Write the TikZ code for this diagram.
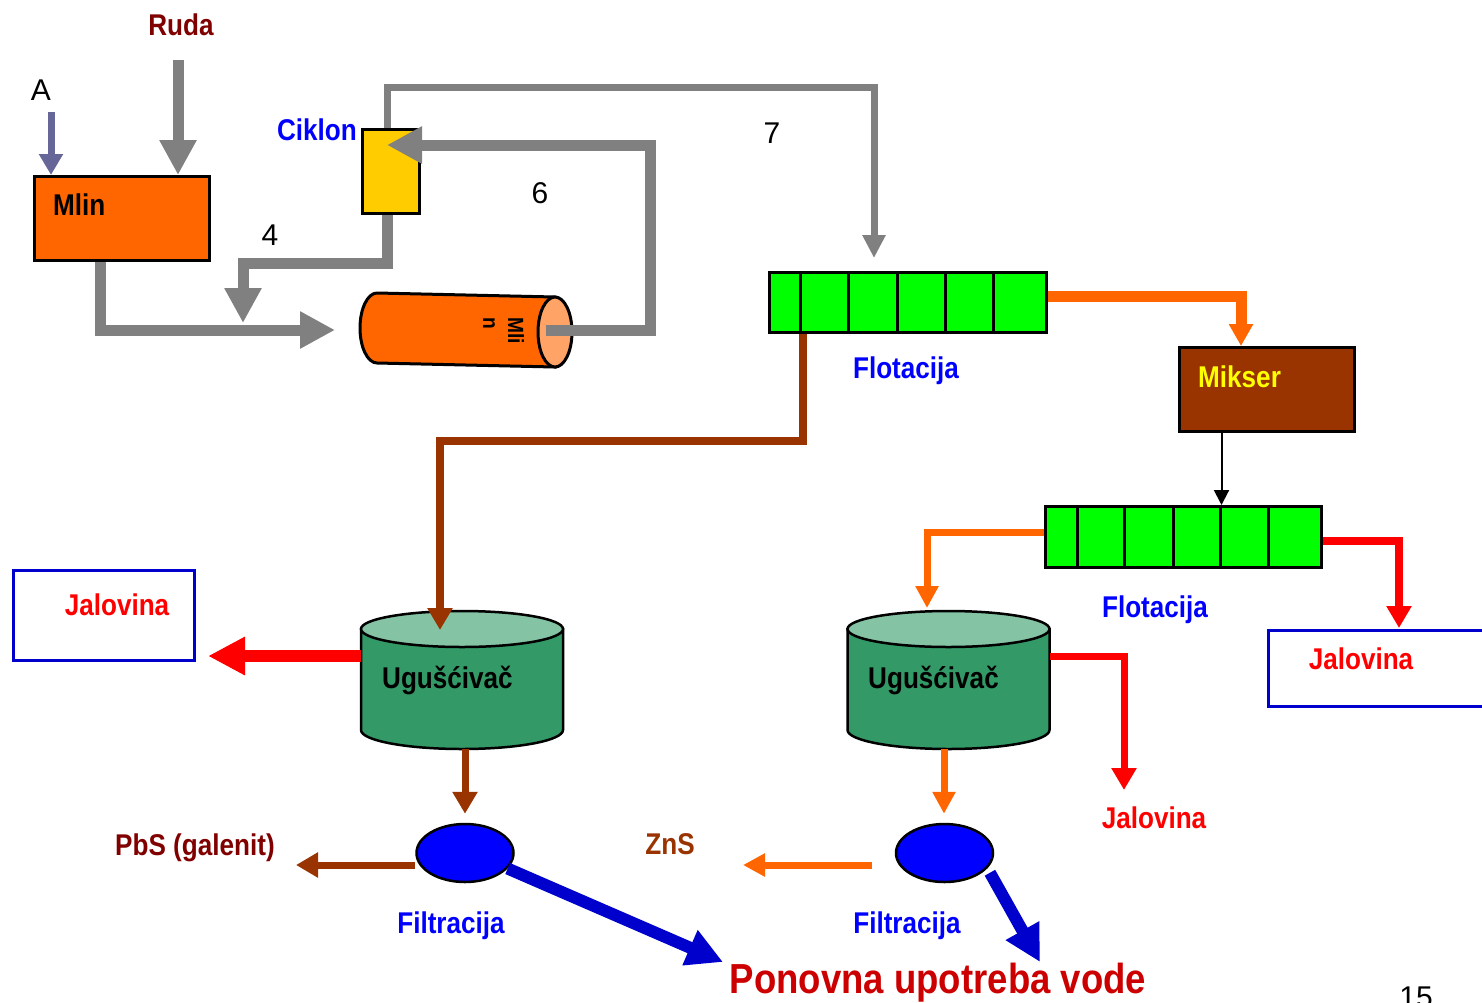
\documentclass[tikz,border=0pt]{standalone}
\usepackage{fontspec}
\setmainfont{Liberation Sans}
\newfontfamily\nb{Liberation Sans}[FakeStretch=0.87]
\usetikzlibrary{arrows.meta,shapes.geometric}

\definecolor{pipegray}{HTML}{808080}
\definecolor{millorange}{HTML}{FF6600}
\definecolor{millcap}{HTML}{FFA366}
\definecolor{cycyellow}{HTML}{FFCC00}
\definecolor{flotgreen}{HTML}{00FF00}
\definecolor{mixbrown}{HTML}{993300}
\definecolor{tankbody}{HTML}{339966}
\definecolor{tanktop}{HTML}{84C4A4}
\definecolor{feedblue}{HTML}{666699}
\definecolor{oremaroon}{HTML}{800000}
\definecolor{labelblue}{HTML}{0000FF}
\definecolor{waterblue}{HTML}{0000CC}
\definecolor{tailred}{HTML}{FF0000}
\definecolor{reusered}{HTML}{CC0000}
\definecolor{mixyellow}{HTML}{FFFF00}

\begin{document}
\begin{tikzpicture}[x=1pt,y=-1pt,line join=miter,
  lbl/.style={inner sep=0pt,font=\nb\bfseries\fontsize{30}{36}\selectfont,anchor=base},
  num/.style={inner sep=0pt,font=\fontsize{30}{36}\selectfont,anchor=base},
  unit/.style={draw=black,line width=3pt,inner sep=0pt,anchor=north west},
  tailbox/.style={draw=waterblue,line width=2.5pt,inner sep=0pt,anchor=north west},
  filter/.style={ellipse,draw=black,line width=2.5pt,fill=labelblue,inner sep=0pt,
                 minimum width=97pt,minimum height=58pt},
  bigpipe/.style={draw=pipegray,line width=11pt,-{Triangle[width=35pt,length=35pt]}},
  smallpipe/.style={draw=pipegray,line width=7pt,-{Triangle[width=22pt,length=23pt]}},
  feedline/.style={draw=feedblue,line width=7pt,-{Triangle[width=23pt,length=21pt]}},
  frothline/.style={draw=millorange,line width=11pt,-{Triangle[width=23pt,length=22pt]}},
  orangeline/.style={draw=millorange,line width=7pt,-{Triangle[width=22pt,length=22pt]}},
  brownline/.style={draw=mixbrown,line width=#1,-{Triangle[width=24pt,length=22pt]}},
  redline/.style={draw=tailred,line width=#1,-{Triangle[width=24pt,length=22pt]}},
  waterline/.style={draw=waterblue,line width=12pt,-{Triangle[width=36pt,length=36pt]}},
  thinline/.style={draw=black,line width=2pt,-{Triangle[width=15pt,length=15pt]}}
]
\useasboundingbox (0,0) rectangle (1482,1002);

% ---------- grinding ----------
\node[unit,fill=millorange,minimum width=175pt,minimum height=84pt] (mlin) at (33,175) {};
\node[lbl,anchor=base west] (mlintxt) at (53,215) {Mlin};
\node[num] (alab) at (41,100) {A};
\node[lbl,text=oremaroon] (ruda) at (181,35) {Ruda};

% ball mill drum
\node[inner sep=0pt,minimum width=212pt,minimum height=76pt] (mill) at (466.5,330) {};
\draw[line width=3pt,fill=millorange] (377,293) -- (555,297) -- (555,367) -- (377,363)
  arc[start angle=270,end angle=90,x radius=17pt,y radius=35pt] -- cycle;
\draw[line width=3pt,fill=millcap] (555,332) ellipse[x radius=17pt,y radius=35pt];
\node[inner sep=0pt,rotate=-90,anchor=base west,font=\nb\bfseries\fontsize{22}{26}\selectfont]
  (milltxt) at (508,317) {Mli};
\node[inner sep=0pt,rotate=-90,anchor=base west,font=\nb\bfseries\fontsize{22}{26}\selectfont]
  (milltxtb) at (483,317) {n};

% cyclone
\node[unit,fill=cycyellow,minimum width=57pt,minimum height=84pt] (cik) at (361,128) {};
\node[lbl,anchor=base east,text=labelblue] (ciktxt) at (357,140) {Ciklon};

\node[num] (n4) at (270,245) {4};
\node[num] (n6) at (540,203) {6};
\node[num] (n7) at (772,143) {7};

% ---------- flotation ----------
\node[unit,fill=flotgreen,minimum width=277pt,minimum height=60pt] (flot1) at (768,271) {};
\foreach \x in {800,848,897,945,993} \draw[line width=3pt] (\x,271) -- (\x,331);
\node[lbl,text=labelblue] (flot1txt) at (906,378) {Flotacija};

\node[unit,fill=mixbrown,minimum width=175pt,minimum height=84pt] (mik) at (1178,346) {};
\node[lbl,anchor=base west,text=mixyellow] (miktxt) at (1198,387) {Mikser};

\node[unit,fill=flotgreen,minimum width=276pt,minimum height=61pt] (flot2) at (1044,505) {};
\foreach \x in {1077,1124,1173,1220,1268} \draw[line width=3pt] (\x,505) -- (\x,566);
\node[lbl,text=labelblue] (flot2txt) at (1155,617) {Flotacija};

% ---------- thickeners ----------
\foreach \cx/\nm in {462/th1,948.5/th2} {
  \node[inner sep=0pt,minimum width=202pt,minimum height=138pt] (\nm) at (\cx,680) {};
  \draw[line width=2.5pt,fill=tankbody] (\cx-101,629) -- (\cx-101,730)
    arc[start angle=180,end angle=360,x radius=101pt,y radius=19pt] -- (\cx+101,629) -- cycle;
  \draw[line width=2.5pt,fill=tanktop] (\cx,629) ellipse[x radius=101pt,y radius=18pt];
}
\node[lbl,anchor=base west] (th1txt) at (382,688) {Ugušćivač};
\node[lbl,anchor=base west] (th2txt) at (868,688) {Ugušćivač};

% tailings
\node[tailbox,minimum width=181pt,minimum height=90pt] (jal1) at (12,569) {};
\node[lbl,text=tailred] (jal1txt) at (117,615) {Jalovina};
\node[tailbox,minimum width=240pt,minimum height=76pt] (jal2) at (1267,629) {};
\node[lbl,text=tailred] (jal2txt) at (1361,669) {Jalovina};
\node[lbl,text=tailred] (jal3txt) at (1154,828) {Jalovina};

% ---------- filtration ----------
\node[filter] (f1) at (465,853) {};
\node[filter] (f2) at (944.5,853) {};
\node[lbl,text=labelblue] (f1txt) at (451,933) {Filtracija};
\node[lbl,text=labelblue] (f2txt) at (907,933) {Filtracija};
\node[lbl,text=oremaroon] (pbs) at (195,855) {PbS (galenit)};
\node[lbl,text=mixbrown] (zns) at (670,854) {ZnS};
\node[inner sep=0pt,anchor=base,font=\nb\bfseries\fontsize{42}{48}\selectfont,text=reusered]
  (reuse) at (938,993) {Ponovna upotreba vode};
\node[num] (page) at (1416,1007) {15};

% ---------- connectors ----------
\coordinate (feedA) at (51,112);
\coordinate (oreIn) at (178,60);
\coordinate (millIn) at (335,330);
\coordinate (cycOut) at (243,323);
\coordinate (cycIn) at (387,145);
\coordinate (flotIn) at (874,258);
\coordinate (mixIn) at (1241,346);
\coordinate (th2In) at (927,608);
\coordinate (jal2In) at (1399,628);
\coordinate (tail2) at (1124,790);
\coordinate (th1In) at (440,630);
\coordinate (tail1) at (208,656);
\coordinate (pbsOut) at (296,865);
\coordinate (znsOut) at (743,865);
\coordinate (reuse1) at (723,962);
\coordinate (reuse2) at (1040,962);

\draw[feedline] (feedA) -- (feedA |- mlin.north);
\draw[bigpipe] (oreIn) -- (oreIn |- mlin.north);
\draw[bigpipe] ([xshift=-21.5pt]mlin.south) |- (millIn);
\draw[bigpipe] ([xshift=-3.5pt]cik.south) -- ++(0,48) -| (cycOut);
\draw[bigpipe] ([xshift=-27pt]mill.east) -- (650,330) |- (cycIn);
\draw[smallpipe] ([xshift=-3.5pt]cik.north) -- ++(0,-41) -| (flotIn);

\draw[frothline] ([yshift=6pt]flot1.east) -| (mixIn);
\draw[thinline] ([xshift=-45.5pt]mik.south) -- ([xshift=38pt]flot2.north);
\draw[orangeline] ([yshift=5pt]flot2.west) -| (th2In);
\draw[redline=8pt] ([yshift=-3.5pt]flot2.east) -| (jal2In);
\draw[redline=7pt] ([yshift=24pt]th2.east) -| (tail2);

\draw[brownline=8pt] ([xshift=-105.5pt]flot1.south) -- ++(0,107) -| (th1In);
\draw[draw=tailred,line width=12pt,-{Triangle[width=36pt,length=37pt]}] ([yshift=24pt]th1.west) -- (tail1);
\draw[brownline=7pt] ([xshift=3pt]th1.south) -- ([yshift=9pt]f1.north);
\draw[brownline=7pt] ([yshift=-12pt]f1.west) -- (pbsOut);
\draw[orangeline] ([xshift=-4.5pt]th2.south) -- ([xshift=-0.5pt,yshift=9pt]f2.north);
\draw[orangeline] ([xshift=-23pt,yshift=-12pt]f2.west) -- (znsOut);

\draw[waterline] (f1.-20) -- (reuse1);
\draw[waterline] ([shift={(4pt,-3pt)}]f2.-22) -- (reuse2);
\end{tikzpicture}
\end{document}
